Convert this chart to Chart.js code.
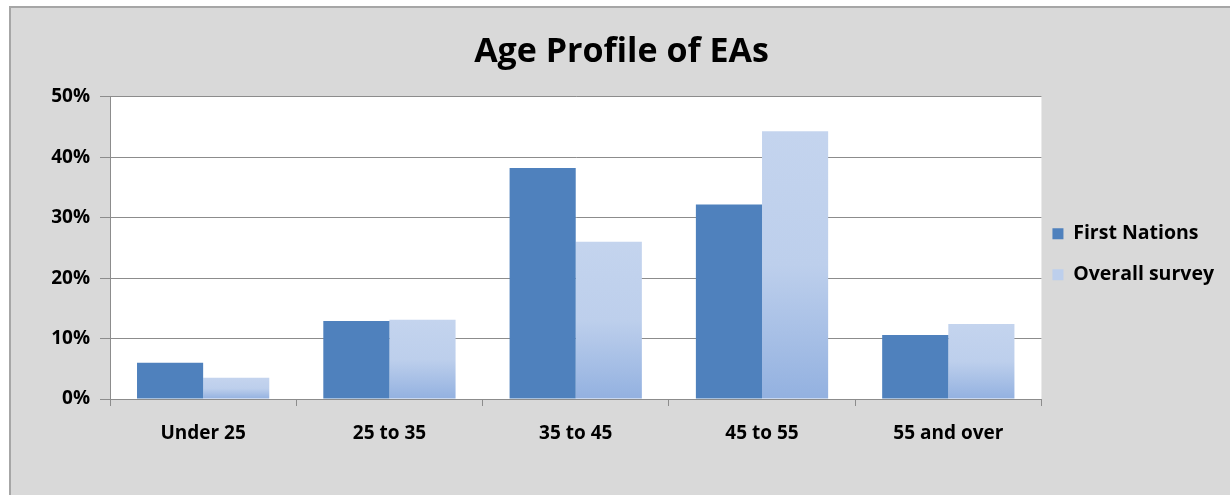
<!DOCTYPE html>
<html>
<head>
<meta charset="utf-8">
<script src="https://cdn.jsdelivr.net/npm/chart.js@4"></script>
<style>
  html, body { margin: 0; padding: 0; background: #ffffff; }
  #frame {
    position: absolute; left: 9px; top: 6px; width: 1221px; height: 489px;
    background: #d9d9d9; border-left: 2px solid #a6a6a6; border-top: 2px solid #a6a6a6;
  }
  #chartBox { position: absolute; left: 0; top: 0; width: 1221px; height: 489px; }
</style>
</head>
<body>
<div id="frame"><div id="chartBox"><canvas id="ageChart"></canvas></div></div>
<script>
// age groups and shares (%)
const ageGroups = ["Under 25", "25 to 35", "35 to 45", "45 to 55", "55 and over"];
const firstNations = [6.0, 12.9, 38.2, 32.2, 10.6];
const overallSurvey = [3.5, 13.1, 26.0, 44.3, 12.4];
const yTicks = [0, 10, 20, 30, 40, 50];

const FONT = "'Open Sans', sans-serif";

// white plot area
const plotBg = {
  id: "plotBg",
  beforeDraw(chart) {
    const a = chart.chartArea, c = chart.ctx;
    c.save();
    c.fillStyle = "#ffffff";
    c.fillRect(a.left, a.top, a.right - a.left, a.bottom - a.top);
    c.restore();
  }
};

// per-bar vertical gradient for the light series
function lightFill(ctx) {
  const chart = ctx.chart;
  const y = chart.scales && chart.scales.y;
  if (ctx.type !== "data" || !y || y.top === undefined) return "#c2d3ee";
  const top = y.getPixelForValue(ctx.raw);
  const base = y.getPixelForValue(0);
  if (!isFinite(top) || !isFinite(base) || base - top < 1) return "#c2d3ee";
  const g = chart.ctx.createLinearGradient(0, top, 0, base);
  g.addColorStop(0, "#c4d4ee");
  g.addColorStop(0.5, "#bdcfec");
  g.addColorStop(1, "#93b1e0");
  return g;
}

const ctx = document.getElementById("ageChart").getContext("2d");
new Chart(ctx, {
  type: "bar",
  data: {
    labels: ageGroups,
    datasets: [{
      label: "First Nations",
      data: firstNations,
      backgroundColor: "#4f81bd",
      borderWidth: 0
    }, {
      label: "Overall survey",
      data: overallSurvey,
      backgroundColor: lightFill,
      borderWidth: 0
    }]
  },
  options: {
    responsive: true,
    maintainAspectRatio: false,
    animation: false,
    layout: { padding: { left: 8, right: 8, top: 0, bottom: 0 } },
    plugins: {
      title: {
        display: true,
        text: "Age Profile of EAs",
        color: "#000000",
        font: { family: FONT, size: 34, weight: "bold", lineHeight: 1.2 },
        padding: { top: 24, bottom: 24 }
      },
      legend: {
        position: "right",
        // empty title only nudges the items down a little
        title: { display: true, text: " ", color: "#000000", font: { size: 10, lineHeight: 1 }, padding: 2 },
        labels: {
          color: "#000000",
          font: { family: FONT, size: 19.5, weight: "bold", lineHeight: 1.54 },
          boxWidth: 11,
          boxHeight: 11,
          padding: 11,
          generateLabels(chart) {
            return chart.data.datasets.map((ds, i) => ({
              text: [ds.label],
              fillStyle: i === 0 ? "#4f81bd" : "#bdcfec",
              strokeStyle: "transparent",
              fontColor: "#000000",
              lineWidth: 0,
              hidden: false,
              datasetIndex: i
            }));
          }
        }
      },
      tooltip: { enabled: false }
    },
    datasets: {
      bar: { categoryPercentage: 0.71, barPercentage: 1.0 }
    },
    scales: {
      x: {
        grid: { offset: true, drawOnChartArea: false, drawTicks: true, tickLength: 7, color: "#8c8c8c" },
        border: { color: "#8c8c8c" },
        ticks: { color: "#000000", font: { family: FONT, size: 19, weight: "bold" }, padding: 16 },
        afterFit(scale) { scale.height = 98; }
      },
      y: {
        min: 0,
        max: 50,
        afterBuildTicks(scale) { scale.ticks = yTicks.map(v => ({ value: v })); },
        grid: { color: "#8c8c8c", tickLength: 10 },
        border: { color: "#8c8c8c" },
        ticks: {
          color: "#000000",
          font: { family: FONT, size: 19, weight: "bold" },
          padding: 10,
          callback: v => v + "%"
        },
        afterFit(scale) { scale.width = 91; }
      }
    }
  },
  plugins: [plotBg]
});
</script>
</body>
</html>
